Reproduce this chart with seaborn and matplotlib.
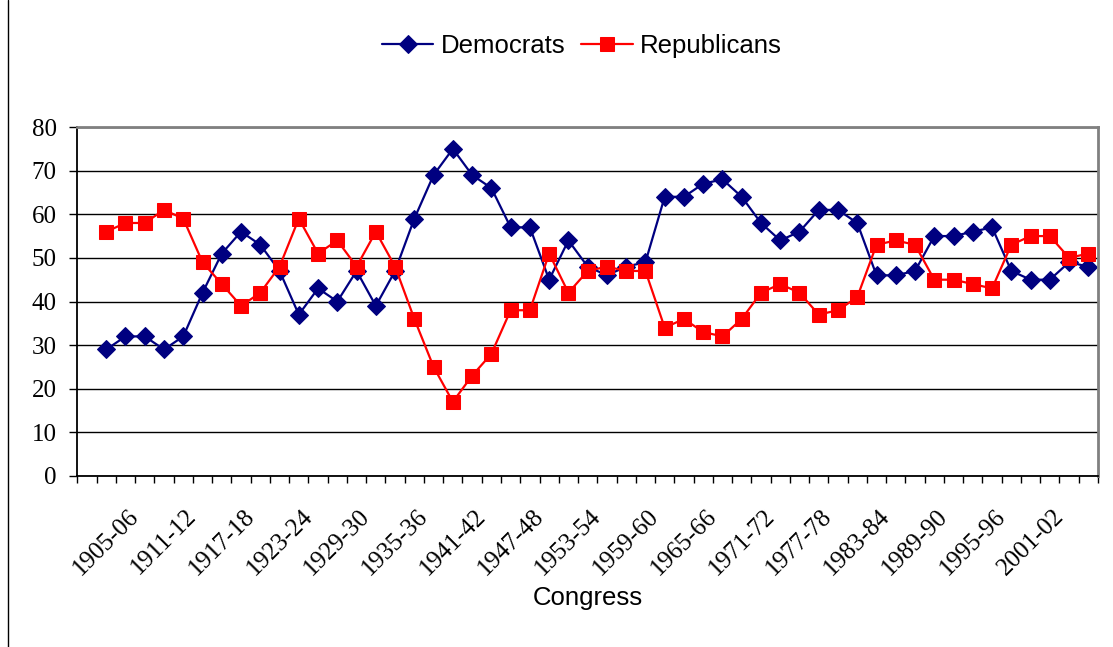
import numpy as np
import pandas as pd
import matplotlib
matplotlib.use("Agg")
import matplotlib.pyplot as plt
import seaborn as sns
from matplotlib.lines import Line2D
from matplotlib.ticker import FixedLocator

# Congress sessions, two-year terms from 1905-06 to 2007-08
congress = [f"{y}-{str(y + 1)[-2:]}" for y in range(1905, 2008, 2)]

democrats = [29, 32, 32, 29, 32, 42, 51, 56, 53, 47, 37, 43, 40, 47, 39, 47, 59, 69,
             75, 69, 66, 57, 57, 45, 54, 48, 46, 48, 49, 64, 64, 67, 68, 64, 58, 54,
             56, 61, 61, 58, 46, 46, 47, 55, 55, 56, 57, 47, 45, 45, 49, 48]
republicans = [56, 58, 58, 61, 59, 49, 44, 39, 42, 48, 59, 51, 54, 48, 56, 48, 36, 25,
               17, 23, 28, 38, 38, 51, 42, 47, 48, 47, 47, 34, 36, 33, 32, 36, 42, 44,
               42, 37, 38, 41, 53, 54, 53, 45, 45, 44, 43, 53, 55, 55, 50, 51]

df = pd.DataFrame({"pos": np.arange(len(congress)), "Congress": congress,
                   "Democrats": democrats, "Republicans": republicans})

sns.set_style("white")
serif = "Liberation Serif"
sans = "Liberation Sans"
plt.rcParams["font.family"] = [sans, "DejaVu Sans"]
plt.rcParams["text.color"] = "black"
plt.rcParams["axes.labelcolor"] = "black"
plt.rcParams["xtick.color"] = "black"
plt.rcParams["ytick.color"] = "black"

fig = plt.figure(figsize=(11.13, 6.47), dpi=100)
ax = fig.add_axes([0.0695, 0.2643, 0.917, 0.5394])

sns.lineplot(data=df, x="pos", y="Democrats", ax=ax, color="#000080", marker="D",
             markersize=9.5, markeredgecolor="#000080", linewidth=1.6, label="Democrats")
sns.lineplot(data=df, x="pos", y="Republicans", ax=ax, color="#FF0000", marker="s",
             markersize=9.5, markeredgecolor="#FF0000", linewidth=1.6, label="Republicans")

ax.set_ylim(0, 80)
ax.set_xlim(-1.5, len(congress) - 0.5)
ax.set_yticks(range(0, 81, 10))
ax.yaxis.grid(True, color="black", linewidth=1)
ax.set_axisbelow(True)

# labels on every third session up to 2001-02, ticks between categories
ax.set_xticks(df["pos"][:49:3])
ax.set_xticklabels(df["Congress"][:49:3], rotation=45, ha="center", fontsize=18,
                   family=serif)
ax.xaxis.set_minor_locator(FixedLocator(np.arange(-1.5, len(congress), 1.0)))
ax.tick_params(axis="x", which="major", length=0, pad=21)
ax.tick_params(axis="x", which="minor", bottom=True, direction="out", length=5,
               width=1, color="black")
ax.tick_params(axis="y", which="major", left=True, direction="out", length=6,
               width=1, color="black", pad=9)
for lbl in ax.get_yticklabels():
    lbl.set_fontsize(18)
    lbl.set_family(serif)

ax.set_ylabel("")
ax.set_xlabel("Congress", fontsize=18.5)
ax.xaxis.set_label_coords(0.5, -0.37)
ax.xaxis.label.set_va("baseline")

for side in ["left", "bottom"]:
    ax.spines[side].set_color("black")
    ax.spines[side].set_linewidth(1.3)
for side in ["top", "right"]:
    ax.spines[side].set_color("#808080")
    ax.spines[side].set_linewidth(2)

handles, labels = ax.get_legend_handles_labels()
ax.get_legend().remove()
fig.legend(handles, labels, loc="center", bbox_to_anchor=(0.523, 0.929), ncol=2,
           frameon=False, fontsize=18.5, handlelength=2.0, handletextpad=0.3,
           columnspacing=0.6)

fig.add_artist(Line2D([8 / 1113, 8 / 1113], [0, 1], transform=fig.transFigure,
                      color="black", linewidth=1))

fig.savefig("out.png", dpi=100)
